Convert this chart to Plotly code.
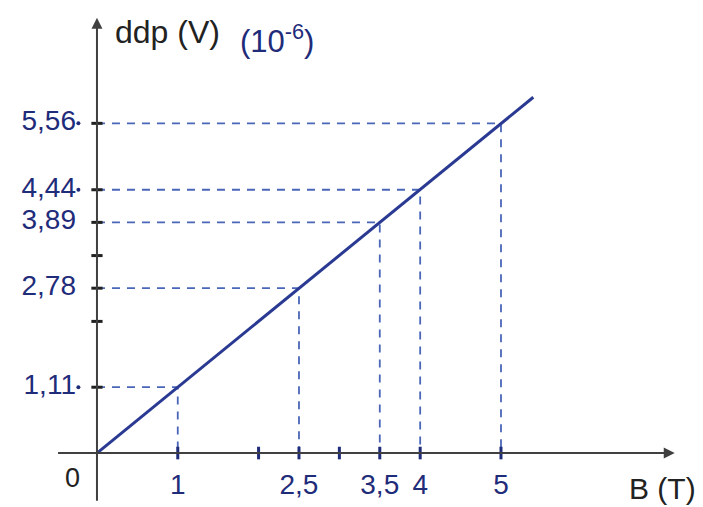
import plotly.graph_objects as go

# Measured points: magnetic field B (T) and induced ddp (10^-6 V)
B_values = [1, 2.5, 3.5, 4, 5]
V_values = [1.11, 2.78, 3.89, 4.44, 5.56]
x_tick_labels = ["1", "2,5", "3,5", "4", "5"]
y_tick_labels = ["1,11", "2,78", "3,89", "4,44", "5,56"]
x_minor_ticks = [2, 3]
y_minor_ticks = [2.22, 3.33]
y_dotted_labels = [1.11, 4.44, 5.56]

# Straight line through the origin (V = 1.11 * B)
line_B = [0, 5.4]
line_V = [0, 6.0]

W, H = 703, 507
X_RANGE = [-1.2, 7.5]
Y_RANGE = [-0.91, 7.64]

INK = "#1f2c7a"
DASH = "#4a66b8"
AXIS = "#404040"
FONT = "Liberation Sans, Arial, sans-serif"

fig = go.Figure()

# dashed guides from each point to both axes
gx, gy = [], []
for b, v in zip(B_values, V_values):
    gx += [0, b, b, None]
    gy += [v, v, 0, None]
fig.add_trace(go.Scatter(x=gx, y=gy, mode="lines",
                         line=dict(color=DASH, width=1.8, dash="8px,7px"),
                         hoverinfo="skip"))

# fitted line
fig.add_trace(go.Scatter(x=line_B, y=line_V, mode="lines",
                         line=dict(color="#2a3a92", width=3),
                         hoverinfo="skip"))

# tick marks on the axes
fig.add_trace(go.Scatter(x=B_values + x_minor_ticks,
                         y=[0] * (len(B_values) + len(x_minor_ticks)),
                         mode="markers",
                         marker=dict(symbol="line-ns", size=9,
                                     line=dict(color=INK, width=3)),
                         hoverinfo="skip"))
fig.add_trace(go.Scatter(x=[0] * (len(V_values) + len(y_minor_ticks)),
                         y=V_values + y_minor_ticks,
                         mode="markers",
                         marker=dict(symbol="line-ew", size=8,
                                     line=dict(color="#222", width=3)),
                         hoverinfo="skip"))

# tick labels
fig.add_trace(go.Scatter(x=[-0.26] * len(V_values), y=V_values,
                         mode="text", text=y_tick_labels,
                         textposition="middle left",
                         textfont=dict(family=FONT, size=28, color=INK),
                         hoverinfo="skip"))
fig.add_trace(go.Scatter(x=[-0.23] * len(y_dotted_labels), y=y_dotted_labels,
                         mode="markers",
                         marker=dict(symbol="circle", size=4, color=INK),
                         hoverinfo="skip"))
fig.add_trace(go.Scatter(x=B_values, y=[-0.57] * len(B_values),
                         mode="text", text=x_tick_labels,
                         textposition="middle center",
                         textfont=dict(family=FONT, size=28, color=INK),
                         hoverinfo="skip"))

# axes with arrow heads
fig.add_annotation(x=7.15, y=0, ax=-0.5, ay=0, xref="x", yref="y",
                   axref="x", ayref="y", text="", showarrow=True,
                   arrowhead=2, arrowsize=1.1, arrowwidth=2, arrowcolor=AXIS)
fig.add_annotation(x=0, y=7.34, ax=0, ay=-0.83, xref="x", yref="y",
                   axref="x", ayref="y", text="", showarrow=True,
                   arrowhead=2, arrowsize=1.1, arrowwidth=2, arrowcolor=AXIS)

# axis titles and origin
fig.add_annotation(x=-0.3, y=-0.42, text="0", showarrow=False,
                   font=dict(family=FONT, size=27, color="#222"))
fig.add_annotation(x=7.0, y=-0.59, text="B (T)", showarrow=False,
                   font=dict(family=FONT, size=30, color="#222"))
fig.add_annotation(x=0.2, y=7.1, text="ddp (V)", showarrow=False,
                   xanchor="left",
                   font=dict(family=FONT, size=32, color="#222"))
fig.add_annotation(x=1.75, y=6.98, text="(10<sup>-6</sup>)", showarrow=False,
                   xanchor="left",
                   font=dict(family=FONT, size=31, color=INK))

fig.update_layout(
    width=W, height=H,
    margin=dict(l=0, r=0, t=0, b=0),
    paper_bgcolor="white", plot_bgcolor="white",
    showlegend=False,
    xaxis=dict(range=X_RANGE, visible=False, fixedrange=True),
    yaxis=dict(range=Y_RANGE, visible=False, fixedrange=True),
)

fig.write_html("out.html")
